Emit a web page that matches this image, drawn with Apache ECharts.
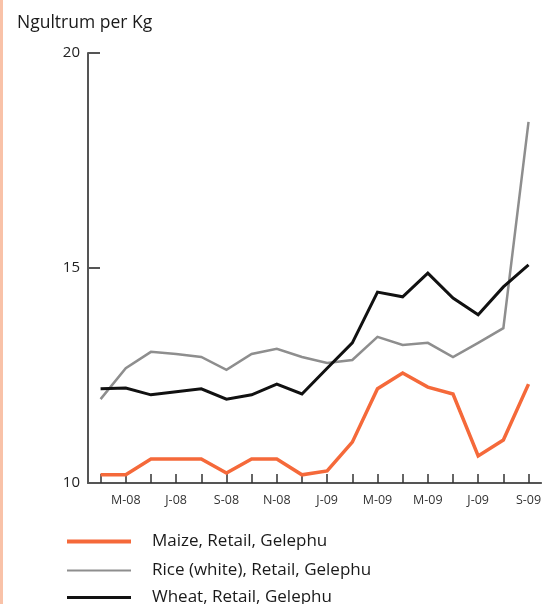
<!DOCTYPE html>
<html>
<head>
<meta charset="utf-8">
<script src="https://cdn.jsdelivr.net/npm/echarts@6/dist/echarts.min.js"></script>
<style>
  html, body { margin: 0; padding: 0; background: #fff; }
  #chart { width: 544px; height: 604px; }
</style>
</head>
<body>
<div id="chart"></div>
<script>
// Monthly retail prices in Gelephu, Apr 2008 – Sep 2009 (Ngultrum per Kg)
const months = ['A-08', 'M-08', 'J-08', 'J-08', 'A-08', 'S-08', 'O-08', 'N-08', 'D-08',
                'J-09', 'F-09', 'M-09', 'A-09', 'M-09', 'J-09', 'J-09', 'A-09', 'S-09'];

const maize = [10.19, 10.19, 10.56, 10.56, 10.56, 10.23, 10.56, 10.56, 10.19,
               10.28, 10.95, 12.19, 12.56, 12.23, 12.07, 10.63, 11.0, 12.30];

const rice = [11.95, 12.67, 13.05, 13.0, 12.93, 12.63, 13.0, 13.12, 12.93,
              12.79, 12.86, 13.40, 13.21, 13.26, 12.93, 13.26, 13.6, 18.4];

const wheat = [12.19, 12.21, 12.05, 12.12, 12.19, 11.95, 12.05, 12.30, 12.07,
               12.67, 13.26, 14.44, 14.33, 14.88, 14.3, 13.91, 14.56, 15.07];

const yTicks = [10, 15, 20];

const seriesNames = ['Maize, Retail, Gelephu', 'Rice (white), Retail, Gelephu', 'Wheat, Retail, Gelephu'];
const seriesColors = ['#f5693a', '#8e8e8e', '#111111'];
const seriesWidths = [3.5, 2.5, 3];

const font = '"Open Sans", "Liberation Sans", sans-serif';
const chart = echarts.init(document.getElementById('chart'), null, { renderer: 'canvas' });

function lineSeries(i, data) {
  return {
    name: seriesNames[i],
    type: 'line',
    data: data,
    symbol: 'none',
    smooth: false,
    lineStyle: { color: seriesColors[i], width: seriesWidths[i], join: 'miter' },
    itemStyle: { color: seriesColors[i] },
    emphasis: { disabled: true }
  };
}

// one legend row per series, stacked under the plot
function legendRow(i, top, iconHeight) {
  return {
    orient: 'vertical',
    left: 67,
    top: top,
    icon: 'rect',
    itemWidth: 64,
    itemHeight: iconHeight,
    padding: 0,
    textStyle: { fontFamily: font, fontSize: 17, color: '#1a1a1a', padding: [0, 0, 0, 16] },
    data: [seriesNames[i]]
  };
}

chart.setOption({
  animation: false,
  backgroundColor: '#ffffff',
  graphic: [
    {
      type: 'rect',
      left: 0, top: 0,
      shape: { width: 3, height: 604 },
      style: { fill: '#f9c2a8' },
      silent: true
    },
    {
      type: 'text',
      left: 17, top: 14,
      style: { text: 'Ngultrum per Kg', font: '17.5px ' + font, fill: '#1a1a1a' },
      silent: true
    }
  ],
  grid: { left: 88, top: 53, right: -1, bottom: 121, containLabel: false },
  legend: [
    legendRow(0, 533, 4),
    legendRow(1, 562, 2),
    legendRow(2, 589, 3)
  ],
  xAxis: {
    type: 'category',
    data: months,
    boundaryGap: true,
    axisLine: { lineStyle: { color: '#555555', width: 2 } },
    axisTick: {
      show: true, inside: true, length: 9, alignWithLabel: true,
      interval: 0,
      lineStyle: { color: '#333333', width: 1.5 }
    },
    axisLabel: {
      interval: function (index) { return index % 2 === 1; },
      fontFamily: font, fontSize: 12.5, color: '#333333', margin: 11
    },
    splitLine: { show: false }
  },
  yAxis: {
    type: 'value',
    min: yTicks[0],
    max: yTicks[yTicks.length - 1],
    interval: 5,
    axisLine: { show: true, lineStyle: { color: '#555555', width: 2 } },
    axisTick: { show: true, inside: true, length: 12, lineStyle: { color: '#555555', width: 2 } },
    axisLabel: { fontFamily: font, fontSize: 15, color: '#222222', margin: 8 },
    splitLine: { show: false }
  },
  series: [
    lineSeries(0, maize),
    lineSeries(1, rice),
    lineSeries(2, wheat)
  ]
});
</script>
</body>
</html>
